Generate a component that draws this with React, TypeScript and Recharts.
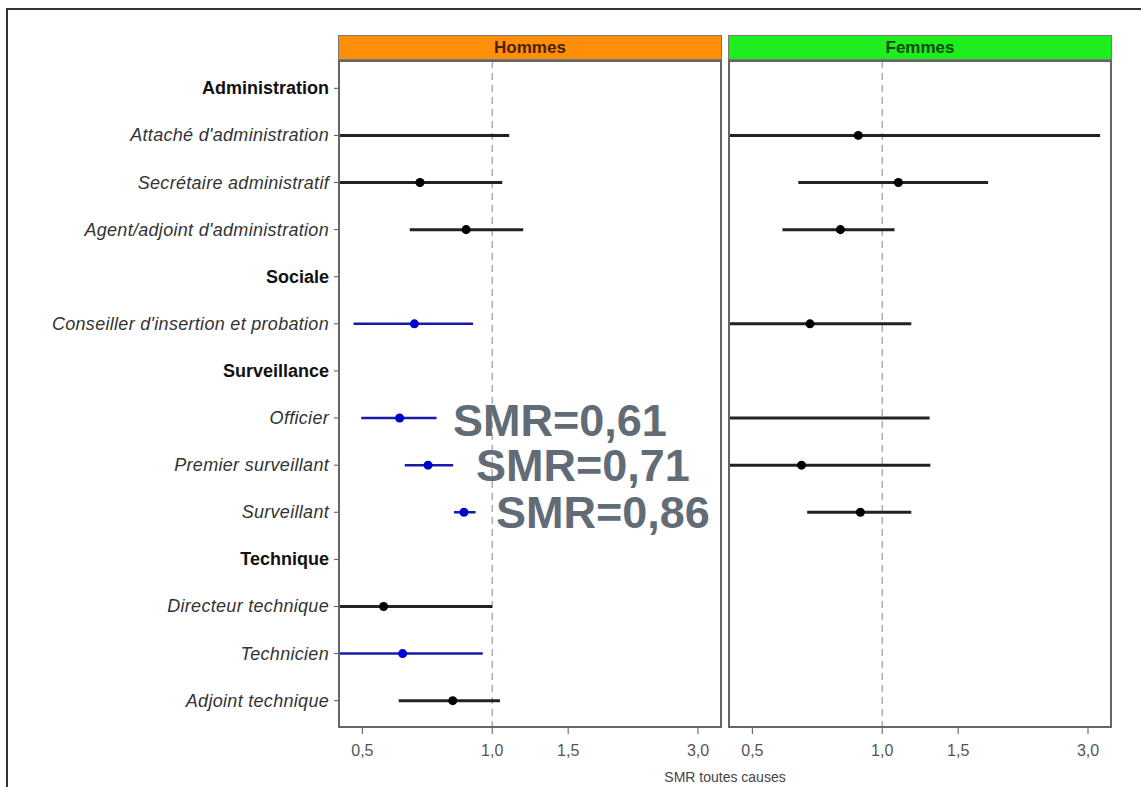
import React from 'react'
import { ScatterChart, Scatter, XAxis, YAxis, ErrorBar, ReferenceLine } from 'recharts'

// rows, top to bottom (headers are bold, job titles italic)
const rows = [
  'Administration',
  "Attaché d'administration",
  'Secrétaire administratif',
  "Agent/adjoint d'administration",
  'Sociale',
  "Conseiller d'insertion et probation",
  'Surveillance',
  'Officier',
  'Premier surveillant',
  'Surveillant',
  'Technique',
  'Directeur technique',
  'Technicien',
  'Adjoint technique',
]
const headers = ['Administration', 'Sociale', 'Surveillance', 'Technique']

const xTicks = [0.5, 1, 1.5, 3]

// SMR with 95% CI: [row, smr, lower, upper]
const hommesBlack = [
  ["Attaché d'administration", 0.4, 0.3, 1.095],
  ['Secrétaire administratif', 0.68, 0.4, 1.055],
  ["Agent/adjoint d'administration", 0.87, 0.644, 1.18],
  ['Directeur technique', 0.56, 0.35, 1.0],
  ['Adjoint technique', 0.81, 0.607, 1.042],
]
const hommesBlue = [
  ["Conseiller d'insertion et probation", 0.66, 0.477, 0.903],
  ['Officier', 0.61, 0.497, 0.743],
  ['Premier surveillant', 0.71, 0.627, 0.812],
  ['Surveillant', 0.86, 0.815, 0.915],
  ['Technicien', 0.62, 0.35, 0.951],
]
const femmesBlack = [
  ["Attaché d'administration", 0.88, 0.3, 3.2],
  ['Secrétaire administratif', 1.09, 0.639, 1.76],
  ["Agent/adjoint d'administration", 0.8, 0.587, 1.068],
  ["Conseiller d'insertion et probation", 0.68, 0.4, 1.168],
  ['Officier', 0.4, 0.25, 1.288],
  ['Premier surveillant', 0.65, 0.4, 1.293],
  ['Surveillant', 0.89, 0.67, 1.168],
]

const annotations = ['SMR=0,61', 'SMR=0,71', 'SMR=0,86']

const toPoints = (list: any[]) =>
  list.map(([name, smr, lo, hi]) => ({
    x: smr,
    y: rows.indexOf(name),
    err: [smr - lo, hi - smr],
  }))

const FONT = '"Liberation Sans", Arial, Helvetica, sans-serif'
const Y_DOMAIN = [-0.58, 13.58]

const RowTick = (props: any) => {
  const { x, y, payload } = props
  const label = rows[payload.value]
  const isHeader = headers.includes(label)
  return (
    <text
      x={x - 3}
      y={y}
      dy={6}
      textAnchor="end"
      fontFamily={FONT}
      fontSize={18}
      letterSpacing={isHeader ? 0 : 0.3}
      fontWeight={isHeader ? 'bold' : 'normal'}
      fontStyle={isHeader ? 'normal' : 'italic'}
      fill={isHeader ? '#111' : '#333'}
    >
      {label}
    </text>
  )
}

const fmt = (v: number) => v.toFixed(1).replace('.', ',')

// row labels only, drawn with the same y scale as the panels
const RowLabels = () => (
  <ScatterChart width={342} height={787} margin={{ top: 61, right: 4, bottom: 59, left: 0 }}>
    <XAxis type="number" dataKey="x" domain={[0, 1]} hide />
    <YAxis
      type="number"
      dataKey="y"
      domain={Y_DOMAIN}
      reversed
      allowDataOverflow
      ticks={rows.map((_, i) => i)}
      interval={0}
      width={338}
      axisLine={false}
      tickSize={4}
      tickLine={{ stroke: '#555' }}
      tick={<RowTick />}
    />
    <Scatter data={[]} isAnimationActive={false} />
  </ScatterChart>
)

const Panel = ({ black, blue }: { black: any[]; blue: any[] }) => (
  <ScatterChart width={384} height={787} margin={{ top: 61, right: 0, bottom: 29, left: 0 }}>
    <XAxis
      type="number"
      dataKey="x"
      scale="log"
      domain={[0.439, 3.41]}
      allowDataOverflow
      ticks={xTicks}
      tickFormatter={fmt}
      axisLine={false}
      tickSize={6}
      tickMargin={11}
      tickLine={{ stroke: '#555' }}
      tick={{ fill: '#555', fontSize: 16, fontFamily: FONT }}
      height={30}
    />
    <YAxis type="number" dataKey="y" domain={Y_DOMAIN} reversed allowDataOverflow hide width={0} />
    <ReferenceLine x={1} stroke="#999" strokeDasharray="7 5" strokeWidth={1.2} />
    <Scatter data={toPoints(black)} fill="#000" isAnimationActive={false}>
      <ErrorBar dataKey="err" direction="x" width={0} stroke="#222" strokeWidth={3} isAnimationActive={false} />
    </Scatter>
    {blue.length > 0 && (
      <Scatter data={toPoints(blue)} fill="#0000cc" isAnimationActive={false}>
        <ErrorBar dataKey="err" direction="x" width={0} stroke="#1a1aaa" strokeWidth={2.5} isAnimationActive={false} />
      </Scatter>
    )}
  </ScatterChart>
)

const stripStyle = (bg: string, color: string): React.CSSProperties => ({
  position: 'absolute',
  top: 35,
  height: 25,
  width: 384,
  background: bg,
  border: '1px solid #777',
  boxSizing: 'border-box',
  color,
  fontFamily: FONT,
  fontWeight: 'bold',
  fontSize: 17,
  lineHeight: '23px',
  textAlign: 'center',
})

const boxStyle = (left: number): React.CSSProperties => ({
  position: 'absolute',
  left,
  top: 60,
  width: 384,
  height: 668,
  border: '2px solid #666',
  boxSizing: 'border-box',
  pointerEvents: 'none',
})

const clipStyle = (left: number): React.CSSProperties => ({
  position: 'absolute',
  left,
  top: 0,
  width: 384,
  height: 787,
  overflow: 'hidden',
})

export default function App() {
  return (
    <div style={{ position: 'absolute', left: 0, top: 0, width: 1141, height: 787, background: '#fff', overflow: 'hidden' }}>
      <div style={{ position: 'absolute', left: 6, top: 8, width: 1200, height: 900, borderTop: '2px solid #333', borderLeft: '2px solid #333' }} />
      <div style={{ position: 'absolute', left: 0, top: 0 }}>
        <RowLabels />
      </div>
      <div style={clipStyle(338)}>
        <Panel black={hommesBlack} blue={hommesBlue} />
      </div>
      <div style={clipStyle(728)}>
        <Panel black={femmesBlack} blue={[]} />
      </div>
      <div style={boxStyle(338)} />
      <div style={boxStyle(728)} />
      <div style={{ ...stripStyle('#ff8f0a', '#4a2200'), left: 338 }}>Hommes</div>
      <div style={{ ...stripStyle('#1eee1e', '#0c4a0c'), left: 728 }}>Femmes</div>
      <div style={{ position: 'absolute', left: 0, width: 1450, top: 769, textAlign: 'center', fontFamily: FONT, fontSize: 14, color: '#444' }}>
        SMR toutes causes
      </div>
      {annotations.map((t, i) => (
        <div
          key={t}
          style={{
            position: 'absolute',
            left: [453, 476, 496][i],
            top: [400, 445, 492][i],
            fontFamily: FONT,
            fontWeight: 'bold',
            fontSize: 45,
            lineHeight: '42px',
            color: '#626c76',
            whiteSpace: 'nowrap',
          }}
        >
          {t}
        </div>
      ))}
    </div>
  )
}
